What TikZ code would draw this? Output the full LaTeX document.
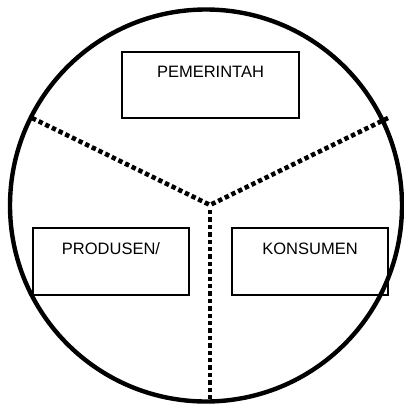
\documentclass[tikz,border=0pt]{standalone}
\usepackage{fontspec}
\setmainfont{Liberation Sans}
\begin{document}
\begin{tikzpicture}[x=1pt,y=-1pt,
  actor/.style={draw, line width=2pt, minimum width=#1, minimum height=66.5pt, inner sep=0pt},
  lbl/.style={anchor=base, yshift=-27pt, font=\fontsize{16.5}{18}\selectfont, inner sep=0pt},
  divider/.style={line width=4.6pt, dash pattern=on 4.4pt off 3pt}]
\useasboundingbox (0,0) rectangle (404,407);
\draw[line width=4.4pt] (206,205.5) circle[radius=196pt];
\node[actor=177pt, label={[lbl]north:PEMERINTAH}] (gov) at (210.5,85) {};
\node[actor=156pt, label={[lbl]north:PRODUSEN/}] (prod) at (111,261.5) {};
\node[actor=156pt, label={[lbl]north:KONSUMEN}] (cons) at (310,261.5) {};
\coordinate (hub) at (210,205);
\coordinate (lend) at (32,118);
\coordinate (rend) at (388,118);
\coordinate (bend) at (210,403);
\draw[divider] (lend) -- (hub) -- (rend);
\draw[divider] (hub) ++(0,5) -- (bend);
\end{tikzpicture}
\end{document}
